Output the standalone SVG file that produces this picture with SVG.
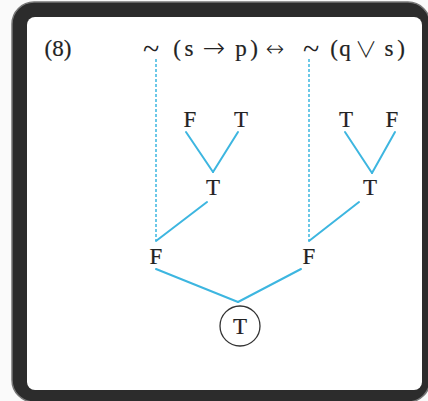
<svg xmlns="http://www.w3.org/2000/svg" width="428" height="401" viewBox="0 0 428 401">
<defs>
<style>
.t{font-family:"Liberation Serif","DejaVu Serif",serif;font-size:23px;fill:#222;stroke:#222;stroke-width:0.2;text-anchor:middle}
.a{font-family:"DejaVu Sans","Liberation Serif",sans-serif;font-weight:200;font-size:27px;fill:#222;text-anchor:middle}
.h{font-family:"DejaVu Sans","Liberation Serif",sans-serif;font-weight:200;font-size:22px;fill:#222;text-anchor:middle}
.s{font-family:"Noto Sans CJK JP","DejaVu Sans",sans-serif;font-weight:300;font-size:22px;fill:#222;text-anchor:middle}
.w{font-family:"Liberation Serif","DejaVu Serif",serif;font-size:30px;fill:#222;text-anchor:middle}
.e{stroke:#3db6e0;stroke-width:2;fill:none;stroke-linecap:round}
.d{stroke:#3db6e0;stroke-width:1.5;fill:none;stroke-dasharray:3 2}
</style>
</defs>
<rect x="0" y="0" width="428" height="401" fill="#fafafa"/>
<rect x="12" y="2" width="418" height="400" rx="22" fill="#2c2c2c" stroke="#777" stroke-width="1.5"/>
<rect x="27" y="17" width="395" height="373" rx="8" fill="#ffffff"/>
<g id="title">
<text class="t" x="58" y="56">(8)</text>
<text class="w" x="151" y="59">~</text>
<text class="t" x="177" y="56">(</text>
<text class="t" x="189" y="56">s</text>
<text class="a" x="214" y="57">→</text>
<text class="t" x="241" y="56">p</text>
<text class="t" x="254" y="56">)</text>
<text class="h" x="275" y="56">↔</text>
<text class="w" x="311" y="59">~</text>
<text class="t" x="334" y="56">(</text>
<text class="t" x="345" y="56">q</text>
<text class="s" x="366" y="57">∨</text>
<text class="t" x="389" y="56">s</text>
<text class="t" x="401" y="56">)</text>
</g>
<g id="connectors">
<line class="d" x1="156" y1="59" x2="156" y2="241"/>
<line class="d" x1="309" y1="59" x2="309" y2="241"/>
<line class="e" x1="186" y1="132" x2="213" y2="172"/>
<line class="e" x1="238" y1="132" x2="213" y2="172"/>
<line class="e" x1="345" y1="132" x2="372" y2="173"/>
<line class="e" x1="395" y1="132" x2="372" y2="173"/>
<line class="e" x1="207" y1="202" x2="156" y2="241"/>
<line class="e" x1="359" y1="202" x2="309" y2="241"/>
<line class="e" x1="156" y1="269" x2="238" y2="302"/>
<line class="e" x1="301" y1="269" x2="238" y2="302"/>
</g>
<g id="n-f1"><text class="t" x="190" y="127">F</text></g>
<g id="n-t1"><text class="t" x="241" y="127">T</text></g>
<g id="n-t2"><text class="t" x="346" y="127">T</text></g>
<g id="n-f2"><text class="t" x="392" y="127">F</text></g>
<g id="n-t3"><text class="t" x="213" y="195">T</text></g>
<g id="n-t4"><text class="t" x="370" y="195">T</text></g>
<g id="n-f3"><text class="t" x="156" y="264">F</text></g>
<g id="n-f4"><text class="t" x="309" y="264">F</text></g>
<g id="n-root">
<circle cx="240" cy="326" r="20" fill="none" stroke="#333" stroke-width="1.3"/>
<text class="t" x="240" y="334">T</text>
</g>
</svg>
